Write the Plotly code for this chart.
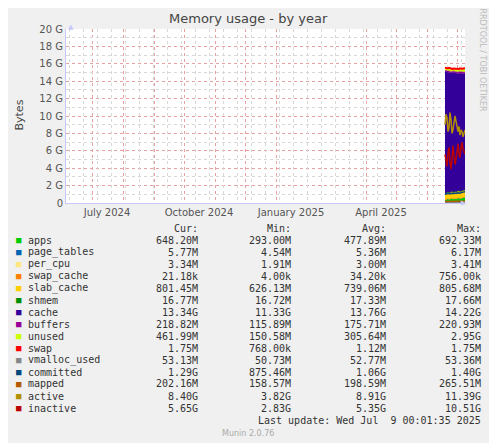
import pandas as pd
import plotly.graph_objects as go

# Data (values in G), daily samples since the host appeared
dates = pd.date_range("2025-06-19", "2025-07-09", freq="D")

apps = [0.35, 0.40, 0.45, 0.50, 0.42, 0.48, 0.50, 0.55, 0.45, 0.50, 0.52,
        0.48, 0.50, 0.55, 0.60, 0.50, 0.55, 0.60, 0.62, 0.65, 0.65]
page_tables = [0.0055] * 21
per_cpu = [0.0033] * 21
swap_cache = [0.00003] * 21
slab_cache = [0.65, 0.68, 0.70, 0.72, 0.70, 0.73, 0.74, 0.75, 0.74, 0.75, 0.76,
              0.75, 0.76, 0.77, 0.78, 0.77, 0.78, 0.79, 0.80, 0.80, 0.80]
shmem = [0.017] * 21
cache = [14.1, 14.0, 13.9, 13.8, 13.9, 13.8, 13.7, 13.6, 13.8, 13.7, 13.6,
         13.7, 13.6, 13.5, 13.5, 13.6, 13.5, 13.4, 13.4, 13.35, 13.34]
buffers = [0.12, 0.13, 0.14, 0.15, 0.15, 0.16, 0.16, 0.17, 0.17, 0.18, 0.18,
           0.18, 0.19, 0.19, 0.20, 0.20, 0.21, 0.21, 0.22, 0.22, 0.22]
unused = [0.30, 0.25, 0.28, 0.30, 0.35, 0.30, 0.32, 0.30, 0.28, 0.30, 0.32,
          0.30, 0.33, 0.35, 0.30, 0.38, 0.35, 0.38, 0.40, 0.42, 0.46]
swap = [0.0018] * 21
vmalloc_used = [0.053] * 21
committed = [1.00, 1.05, 1.02, 1.10, 1.08, 1.05, 1.12, 1.10, 1.08, 1.15, 1.12,
             1.10, 1.15, 1.18, 1.12, 1.20, 1.18, 1.22, 1.25, 1.28, 1.29]
mapped = [0.18, 0.19, 0.19, 0.20, 0.20, 0.19, 0.20, 0.20, 0.20, 0.21, 0.20,
          0.20, 0.20, 0.21, 0.20, 0.20, 0.21, 0.20, 0.20, 0.20, 0.20]
active = [9.0, 10.2, 9.8, 8.2, 8.6, 10.4, 9.6, 8.0, 8.4, 9.2, 10.0,
          9.4, 8.6, 8.2, 8.8, 7.8, 8.4, 8.2, 7.6, 8.0, 8.4]
inactive = [5.6, 4.8, 4.2, 5.8, 6.4, 4.6, 3.9, 5.2, 6.6, 5.4, 4.4,
            5.0, 6.2, 6.8, 5.6, 5.2, 6.4, 7.0, 6.2, 5.8, 5.65]

stacked = [
    ("apps", apps, "#00CC00"), ("page_tables", page_tables, "#0066B3"),
    ("per_cpu", per_cpu, "#FFE680"), ("swap_cache", swap_cache, "#FF8000"),
    ("slab_cache", slab_cache, "#FFCC00"), ("shmem", shmem, "#008F00"),
    ("cache", cache, "#330099"), ("buffers", buffers, "#990099"),
    ("unused", unused, "#CCFF00"), ("swap", swap, "#FF0000"),
]
lines = [
    ("vmalloc_used", vmalloc_used, "#888888"), ("committed", committed, "#00487D"),
    ("mapped", mapped, "#B35A00"), ("active", active, "#B38F00"),
    ("inactive", inactive, "#BB0000"),
]

# Legend table values
legend_rows = [
    ("apps", "648.20M", "293.00M", "477.89M", "692.33M"),
    ("page_tables", "5.77M", "4.54M", "5.36M", "6.17M"),
    ("per_cpu", "3.34M", "1.91M", "3.00M", "3.41M"),
    ("swap_cache", "21.18k", "4.00k", "34.20k", "756.00k"),
    ("slab_cache", "801.45M", "626.13M", "739.06M", "805.68M"),
    ("shmem", "16.77M", "16.72M", "17.33M", "17.66M"),
    ("cache", "13.34G", "11.33G", "13.76G", "14.22G"),
    ("buffers", "218.82M", "115.89M", "175.71M", "220.93M"),
    ("unused", "461.99M", "150.58M", "305.64M", "2.95G"),
    ("swap", "1.75M", "768.00k", "1.12M", "1.75M"),
    ("vmalloc_used", "53.13M", "50.73M", "52.77M", "53.36M"),
    ("committed", "1.29G", "875.46M", "1.06G", "1.40G"),
    ("mapped", "202.16M", "158.57M", "198.59M", "265.51M"),
    ("active", "8.40G", "3.82G", "8.91G", "11.39G"),
    ("inactive", "5.65G", "2.83G", "5.35G", "10.51G"),
]
colors = {n: c for n, _, c in stacked + lines}

fig = go.Figure()
for name, vals, col in stacked:
    fig.add_trace(go.Scatter(x=dates, y=vals, name=name, stackgroup="mem",
                             mode="lines",
                             line=dict(width=2 if name == "swap" else 0.5, color=col),
                             fillcolor=col))
for name, vals, col in lines:
    fig.add_trace(go.Scatter(x=dates, y=vals, name=name, mode="lines",
                             line=dict(width=1.5, color=col)))

# grey half-month grid on a hidden overlay axis
fig.add_trace(go.Scatter(x=[dates[0]], y=[0], xaxis="x2", mode="markers",
                         marker=dict(opacity=0), showlegend=False, hoverinfo="skip"))

mono = "DejaVu Sans Mono"
O = 8  # page body margin of the html
W, H = 497, 443
L, R, T, B = 66 - O, 465 - O, 29 - O, 203 - O
PW, PH = R - L, B - T


def px(x):
    return (x - O - L) / PW


def py(y):
    return (B - (y - O)) / PH


ann = []
cols = [200, 293, 388, 483]
for i, hdr in enumerate(["Cur:", "Min:", "Avg:", "Max:"]):
    ann.append(dict(x=px(cols[i]), y=py(228), text=hdr, xanchor="right"))
for r, row in enumerate(legend_rows):
    yy = py(240 + 12 * r)
    ann.append(dict(x=px(14), y=yy, text="■", xanchor="left",
                    font=dict(family=mono, size=9, color=colors[row[0]])))
    ann.append(dict(x=px(26), y=yy, text=row[0], xanchor="left"))
    for j, v in enumerate(row[1:]):
        ann.append(dict(x=px(cols[j]), y=yy, text=v, xanchor="right"))
ann.append(dict(x=px(483), y=py(420), text="Last update: Wed Jul  9 00:01:35 2025",
                xanchor="right"))
for a in ann:
    a.update(xref="paper", yref="paper", showarrow=False, yanchor="middle")
    a.setdefault("font", dict(family=mono, size=10, color="#333333"))
fig.update_layout(annotations=ann)


def note(x, y, text, size, color, angle=0):
    fig.add_annotation(x=px(x), y=py(y), xref="paper", yref="paper", showarrow=False,
                       text=text, textangle=angle, yanchor="middle",
                       font=dict(family="DejaVu Sans", size=size, color=color))


note(248, 433, "Munin 2.0.76", 8, "#AAAAAA")
note(248, 19, "Memory usage - by year", 13, "#444444")
note(11, 115, "Bytes", 11, "#444444", -90)
note(488, 60, "RRDTOOL / TOBI OETIKER", 8, "#BBBBBB", 90)
note(66, 27, "▲", 7, "#C8C8F8")
note(469, 203, "▶", 7, "#C8C8F8")

xr = ["2024-06-05", "2025-07-09"]
fig.update_layout(
    width=W - O, height=H - O,
    margin=dict(l=L, r=W - O - R, t=T, b=H - O - B),
    paper_bgcolor="#F0F0F0", plot_bgcolor="#FFFFFF",
    showlegend=False,
    font=dict(family="DejaVu Sans", size=10, color="#555555"),
    xaxis=dict(
        type="date", range=xr,
        tickvals=["2024-07-16", "2024-10-16", "2025-01-16", "2025-04-16"],
        ticktext=["July 2024", "October 2024", "January 2025", "April 2025"],
        showgrid=False, ticks="", showline=True, linecolor="#C8C8F8",
        minor=dict(dtick="M1", tick0="2024-07-01", showgrid=True,
                   gridcolor="#E8A0A0", griddash="dot", ticks=""),
        zeroline=False,
    ),
    xaxis2=dict(type="date", range=xr, overlaying="x", dtick=14 * 86400000,
                tick0="2024-06-08", showgrid=True, gridcolor="#D8D8D8",
                griddash="dot", showticklabels=False, ticks=""),
    yaxis=dict(
        range=[0, 20], tickvals=list(range(0, 21, 2)),
        ticktext=["0"] + [f"{v} G" for v in range(2, 21, 2)],
        showgrid=True, gridcolor="#E8A0A0", griddash="dot",
        minor=dict(dtick=1, showgrid=True, gridcolor="#D8D8D8", griddash="dot"),
        showline=True, linecolor="#C8C8F8", zeroline=False, ticks="",
    ),
)
fig.write_html("out.html")
